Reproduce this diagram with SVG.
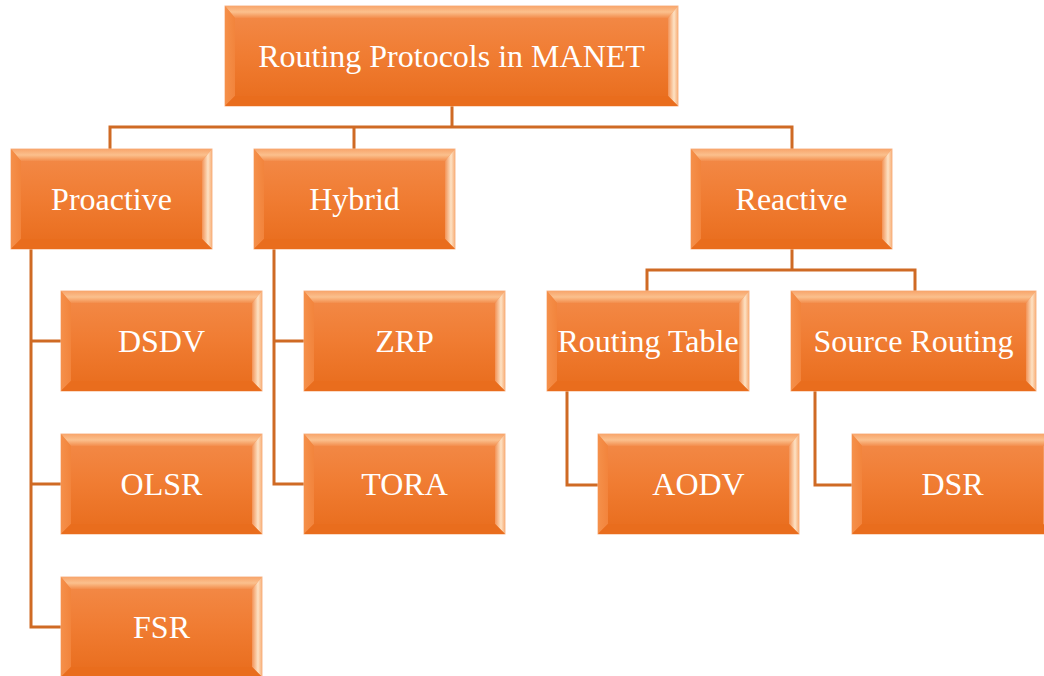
<svg xmlns="http://www.w3.org/2000/svg" width="1044" height="676" viewBox="0 0 1044 676">
  <defs>
    <linearGradient id="face" x1="0" y1="0" x2="0" y2="1">
      <stop offset="0" stop-color="#F38B4A"/>
      <stop offset="0.5" stop-color="#F07C32"/>
      <stop offset="1" stop-color="#E86C1C"/>
    </linearGradient>
    <linearGradient id="bevTop" x1="0" y1="0" x2="0" y2="1">
      <stop offset="0" stop-color="#F8A56B"/>
      <stop offset="0.5" stop-color="#FBC08D"/>
      <stop offset="1" stop-color="#F38D4C"/>
    </linearGradient>
    <linearGradient id="bevRight" x1="0" y1="0" x2="1" y2="0">
      <stop offset="0" stop-color="#F29256"/>
      <stop offset="0.6" stop-color="#FDE2C4"/>
      <stop offset="1" stop-color="#F8AE78"/>
    </linearGradient>
    <linearGradient id="bevLeft" x1="0" y1="0" x2="1" y2="0">
      <stop offset="0" stop-color="#F5904A"/>
      <stop offset="1" stop-color="#F2843C"/>
    </linearGradient>
  </defs>
  <style>
    .face { fill: url(#face); stroke: #F8B88E; stroke-width: 1; }
    .bt { fill: url(#bevTop); }
    .br { fill: url(#bevRight); }
    .bl { fill: url(#bevLeft); }
    .bb { fill: #E96D1D; }
    .label { font-family: "Liberation Serif", "Times New Roman", serif; font-size: 32px; fill: #FFFFFF; text-anchor: middle; }
    .conn { fill: none; stroke: #CF6A24; stroke-width: 3; }
  </style>

  <rect width="1044" height="676" fill="#FFFFFF"/>

  <!-- tree connectors -->
  <g id="connectors">
    <path class="conn" d="M452 106 V127 M110 149 V127 H792 V149 M354 127 V149"/>
    <path class="conn" d="M31 248 V627 H61 M31 341 H61 M31 484 H61"/>
    <path class="conn" d="M274 248 V484 H304 M274 341 H304"/>
    <path class="conn" d="M792 248 V270 M647 291 V270 H915 V291"/>
    <path class="conn" d="M567 391 V485 H598"/>
    <path class="conn" d="M815 391 V485 H852"/>
  </g>

  <g id="node-root" transform="translate(225,6)">
    <rect class="face" width="453" height="100"/>
    <polygon class="bt" points="0,0 453,0 443,12 10,12"/>
    <polygon class="br" points="453,0 453,100 443,90 443,12"/>
    <polygon class="bl" points="0,0 10,12 10,90 0,100"/>
    <polygon class="bb" points="0,100 10,90 443,90 453,100"/>
    <text class="label" x="226.5" y="61">Routing Protocols in MANET</text>
  </g>

  <g id="node-proactive" transform="translate(11,149)">
    <rect class="face" width="201" height="100"/>
    <polygon class="bt" points="0,0 201,0 191,12 10,12"/>
    <polygon class="br" points="201,0 201,100 191,90 191,12"/>
    <polygon class="bl" points="0,0 10,12 10,90 0,100"/>
    <polygon class="bb" points="0,100 10,90 191,90 201,100"/>
    <text class="label" x="100.5" y="61">Proactive</text>
  </g>

  <g id="node-hybrid" transform="translate(254,149)">
    <rect class="face" width="201" height="100"/>
    <polygon class="bt" points="0,0 201,0 191,12 10,12"/>
    <polygon class="br" points="201,0 201,100 191,90 191,12"/>
    <polygon class="bl" points="0,0 10,12 10,90 0,100"/>
    <polygon class="bb" points="0,100 10,90 191,90 201,100"/>
    <text class="label" x="100.5" y="61">Hybrid</text>
  </g>

  <g id="node-reactive" transform="translate(691,149)">
    <rect class="face" width="201" height="100"/>
    <polygon class="bt" points="0,0 201,0 191,12 10,12"/>
    <polygon class="br" points="201,0 201,100 191,90 191,12"/>
    <polygon class="bl" points="0,0 10,12 10,90 0,100"/>
    <polygon class="bb" points="0,100 10,90 191,90 201,100"/>
    <text class="label" x="100.5" y="61">Reactive</text>
  </g>

  <g id="node-dsdv" transform="translate(61,291)">
    <rect class="face" width="201" height="100"/>
    <polygon class="bt" points="0,0 201,0 191,12 10,12"/>
    <polygon class="br" points="201,0 201,100 191,90 191,12"/>
    <polygon class="bl" points="0,0 10,12 10,90 0,100"/>
    <polygon class="bb" points="0,100 10,90 191,90 201,100"/>
    <text class="label" x="100.5" y="61">DSDV</text>
  </g>

  <g id="node-olsr" transform="translate(61,434)">
    <rect class="face" width="201" height="100"/>
    <polygon class="bt" points="0,0 201,0 191,12 10,12"/>
    <polygon class="br" points="201,0 201,100 191,90 191,12"/>
    <polygon class="bl" points="0,0 10,12 10,90 0,100"/>
    <polygon class="bb" points="0,100 10,90 191,90 201,100"/>
    <text class="label" x="100.5" y="61">OLSR</text>
  </g>

  <g id="node-fsr" transform="translate(61,577)">
    <rect class="face" width="201" height="100"/>
    <polygon class="bt" points="0,0 201,0 191,12 10,12"/>
    <polygon class="br" points="201,0 201,100 191,90 191,12"/>
    <polygon class="bl" points="0,0 10,12 10,90 0,100"/>
    <polygon class="bb" points="0,100 10,90 191,90 201,100"/>
    <text class="label" x="100.5" y="61">FSR</text>
  </g>

  <g id="node-zrp" transform="translate(304,291)">
    <rect class="face" width="201" height="100"/>
    <polygon class="bt" points="0,0 201,0 191,12 10,12"/>
    <polygon class="br" points="201,0 201,100 191,90 191,12"/>
    <polygon class="bl" points="0,0 10,12 10,90 0,100"/>
    <polygon class="bb" points="0,100 10,90 191,90 201,100"/>
    <text class="label" x="100.5" y="61">ZRP</text>
  </g>

  <g id="node-tora" transform="translate(304,434)">
    <rect class="face" width="201" height="100"/>
    <polygon class="bt" points="0,0 201,0 191,12 10,12"/>
    <polygon class="br" points="201,0 201,100 191,90 191,12"/>
    <polygon class="bl" points="0,0 10,12 10,90 0,100"/>
    <polygon class="bb" points="0,100 10,90 191,90 201,100"/>
    <text class="label" x="100.5" y="61">TORA</text>
  </g>

  <g id="node-routing-table" transform="translate(547,291)">
    <rect class="face" width="202" height="100"/>
    <polygon class="bt" points="0,0 202,0 192,12 10,12"/>
    <polygon class="br" points="202,0 202,100 192,90 192,12"/>
    <polygon class="bl" points="0,0 10,12 10,90 0,100"/>
    <polygon class="bb" points="0,100 10,90 192,90 202,100"/>
    <text class="label" x="101" y="61">Routing Table</text>
  </g>

  <g id="node-source-routing" transform="translate(791,291)">
    <rect class="face" width="245" height="100"/>
    <polygon class="bt" points="0,0 245,0 235,12 10,12"/>
    <polygon class="br" points="245,0 245,100 235,90 235,12"/>
    <polygon class="bl" points="0,0 10,12 10,90 0,100"/>
    <polygon class="bb" points="0,100 10,90 235,90 245,100"/>
    <text class="label" x="122.5" y="61">Source Routing</text>
  </g>

  <g id="node-aodv" transform="translate(598,434)">
    <rect class="face" width="201" height="100"/>
    <polygon class="bt" points="0,0 201,0 191,12 10,12"/>
    <polygon class="br" points="201,0 201,100 191,90 191,12"/>
    <polygon class="bl" points="0,0 10,12 10,90 0,100"/>
    <polygon class="bb" points="0,100 10,90 191,90 201,100"/>
    <text class="label" x="100.5" y="61">AODV</text>
  </g>

  <g id="node-dsr" transform="translate(852,434)">
    <rect class="face" width="201" height="100"/>
    <polygon class="bt" points="0,0 201,0 191,12 10,12"/>
    <polygon class="br" points="201,0 201,100 191,90 191,12"/>
    <polygon class="bl" points="0,0 10,12 10,90 0,100"/>
    <polygon class="bb" points="0,100 10,90 191,90 201,100"/>
    <text class="label" x="100.5" y="61">DSR</text>
  </g>
</svg>
